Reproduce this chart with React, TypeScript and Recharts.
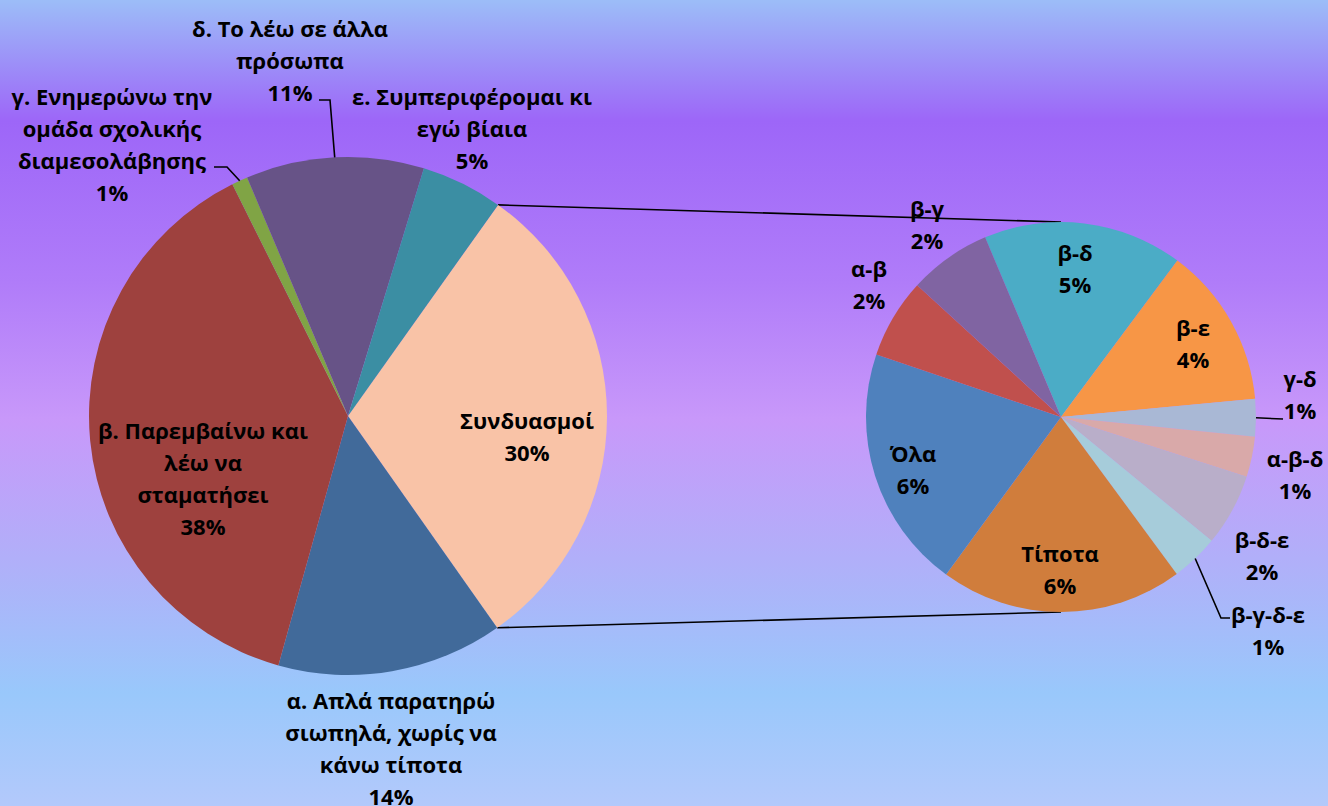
import { PieChart, Pie, Cell, Customized } from 'recharts';

// main pie (percent of answers)
const mainLabels = [
  'Συνδυασμοί',
  'α. Απλά παρατηρώ\nσιωπηλά, χωρίς να\nκάνω τίποτα',
  'β. Παρεμβαίνω και\nλέω να\nσταματήσει',
  'γ. Ενημερώνω την\nομάδα σχολικής\nδιαμεσολάβησης',
  'δ. Το λέω σε άλλα\nπρόσωπα',
  'ε. Συμπεριφέρομαι κι\nεγώ βίαια',
];
const mainValues = [30.4, 14.1, 38.3, 1.0, 11.1, 5.1];
const mainColors = ['#f9c3a7', '#416a9a', '#9e413e', '#80a445', '#675387', '#3b8ea3'];

// breakdown of "Συνδυασμοί"
const comboLabels = ['β-δ', 'β-ε', 'γ-δ', 'α-β-δ', 'β-δ-ε', 'β-γ-δ-ε', 'Τίποτα', 'Όλα', 'α-β', 'β-γ'];
const comboValues = [4.96, 4.0, 0.93, 1.0, 1.8, 1.18, 6.04, 6.05, 1.98, 2.05];
const comboColors = ['#4bacc6', '#f79646', '#a9b8d5', '#d9a9a9', '#b9aec9', '#a6ccda', '#d07d3c', '#4f81bd', '#c0504d', '#8064a2'];

const mainData = mainLabels.map((name, i) => ({ name, value: mainValues[i] }));
const comboData = comboLabels.map((name, i) => ({ name, value: comboValues[i] }));

const W = 1328;
const H = 806;
const MAIN = { cx: 348, cy: 416, r: 259, start: 54.6 };
const COMBO = { cx: 1061, cy: 417, r: 195, start: 112.9 };
const LH = 32;
const RAD = Math.PI / 180;

// label block centres relative to the pie centre
const mainLabelPos = [[179, 20], [43, 332], [-145, 62], [-236, -272], [-58, -356], [124, -288]];
const comboLabelPos = [[14, -149], [132, -74], [239, -23], [234, 57], [201, 138], [207, 213], [-1, 152], [-148, 52], [-192, -133], [-134, -193]];
const mainLeaders: Record<number, number[][]> = { 3: [[-121, -249], [-134, -249]], 4: [[-18, -316], [-29, -316]] };
const comboLeaders: Record<number, number[][]> = { 2: [[222, 2]], 5: [[160, 201], [169, 201]] };

const makeLabel = (labels: string[], values: number[], pos: number[][], leaders: Record<number, number[][]>) => (props: any) => {
  const { cx, cy, midAngle, outerRadius, index } = props;
  const [dx, dy] = pos[index];
  const lines = [...labels[index].split('\n'), `${Math.round(values[index])}%`];
  const lx = cx + dx;
  const ly = cy + dy;
  const leader = leaders[index];
  let line = null;
  if (leader) {
    const sx = cx + outerRadius * Math.cos(-midAngle * RAD);
    const sy = cy + outerRadius * Math.sin(-midAngle * RAD);
    const pts = [[sx, sy], ...leader.map(([px, py]) => [cx + px, cy + py])];
    line = <polyline points={pts.map(p => p.join(',')).join(' ')} fill="none" stroke="#000" strokeWidth={1.6} />;
  }
  return (
    <g>
      {line}
      {lines.map((t, i) => (
        <text
          key={i}
          x={lx}
          y={ly + (i - (lines.length - 1) / 2) * LH}
          textAnchor="middle"
          dominantBaseline="central"
          fill="#000"
          style={{ fontFamily: "'Open Sans', sans-serif", fontWeight: 700, fontSize: 22 }}
        >
          {t}
        </text>
      ))}
    </g>
  );
};

const ConnectorLines = () => {
  const total = mainValues.reduce((a, b) => a + b, 0);
  const a0 = MAIN.start * RAD;
  const a1 = (MAIN.start - (360 * mainValues[0]) / total) * RAD;
  const p0 = [MAIN.cx + MAIN.r * Math.cos(a0), MAIN.cy - MAIN.r * Math.sin(a0)];
  const p1 = [MAIN.cx + MAIN.r * Math.cos(a1), MAIN.cy - MAIN.r * Math.sin(a1)];
  return (
    <g>
      <line x1={p0[0]} y1={p0[1]} x2={COMBO.cx} y2={COMBO.cy - COMBO.r} stroke="#000" strokeWidth={1.6} />
      <line x1={p1[0]} y1={p1[1]} x2={COMBO.cx} y2={COMBO.cy + COMBO.r} stroke="#000" strokeWidth={1.6} />
    </g>
  );
};

export default function App() {
  return (
    <div
      style={{
        position: 'fixed',
        left: 0,
        top: 0,
        width: W,
        height: H,
        background:
          'linear-gradient(180deg, #9cbdf8 0%, #9d66f8 15%, #b07cf9 35%, #c898fa 52%, #b0b0f9 70%, #99c8fb 86%, #b3c9fb 100%)',
      }}
    >
      <PieChart width={W} height={H} margin={{ top: 0, right: 0, bottom: 0, left: 0 }}>
        <Pie
          data={mainData}
          dataKey="value"
          nameKey="name"
          cx={MAIN.cx}
          cy={MAIN.cy}
          outerRadius={MAIN.r}
          startAngle={MAIN.start}
          endAngle={MAIN.start - 360}
          stroke="none"
          isAnimationActive={false}
          labelLine={false}
          label={makeLabel(mainLabels, mainValues, mainLabelPos, mainLeaders)}
        >
          {mainData.map((d, i) => (
            <Cell key={d.name} fill={mainColors[i]} />
          ))}
        </Pie>
        <Pie
          data={comboData}
          dataKey="value"
          nameKey="name"
          cx={COMBO.cx}
          cy={COMBO.cy}
          outerRadius={COMBO.r}
          startAngle={COMBO.start}
          endAngle={COMBO.start - 360}
          stroke="none"
          isAnimationActive={false}
          labelLine={false}
          label={makeLabel(comboLabels, comboValues, comboLabelPos, comboLeaders)}
        >
          {comboData.map((d, i) => (
            <Cell key={d.name} fill={comboColors[i]} />
          ))}
        </Pie>
        <Customized component={ConnectorLines} />
      </PieChart>
    </div>
  );
}
